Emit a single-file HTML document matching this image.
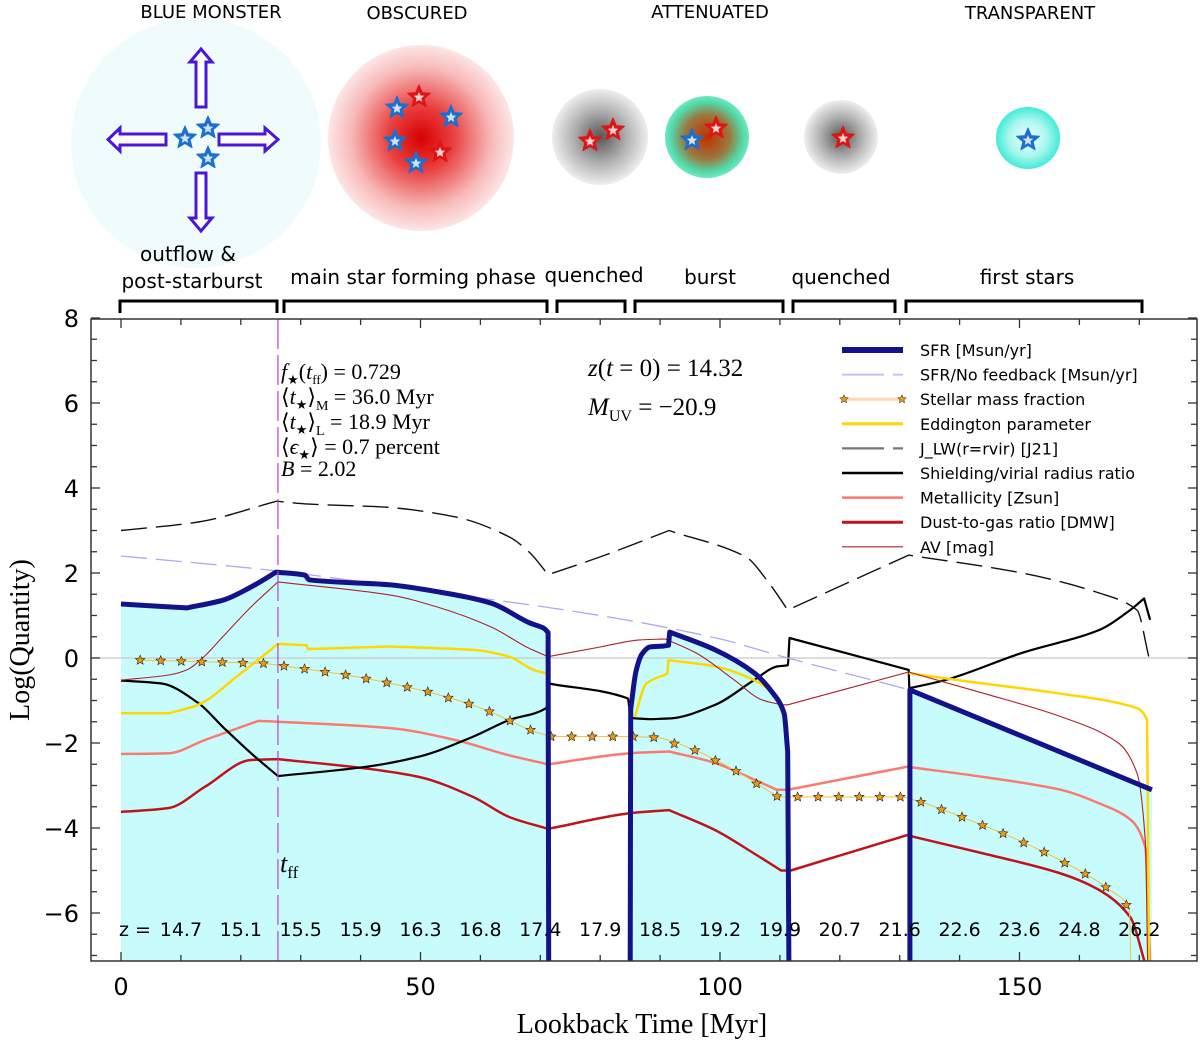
<!DOCTYPE html>
<html><head><meta charset="utf-8"><title>Galaxy evolution chart</title>
<style>
html,body{margin:0;padding:0;background:#fff;}
svg{display:block;}
.sans{font-family:"DejaVu Sans","Liberation Sans",sans-serif;}
.ser{font-family:"Liberation Serif","DejaVu Serif",serif;}
</style></head>
<body>
<svg id="fig" width="1200" height="1044" viewBox="0 0 1200 1044" xmlns="http://www.w3.org/2000/svg">
<defs>
  <radialGradient id="gRed" cx="50%" cy="50%" r="50%">
    <stop offset="0%" stop-color="#d80000"/><stop offset="35%" stop-color="#e84040"/><stop offset="75%" stop-color="#f7b8b8"/><stop offset="100%" stop-color="#fde6e6"/>
  </radialGradient>
  <radialGradient id="gGrey" cx="50%" cy="50%" r="50%">
    <stop offset="0%" stop-color="#555"/><stop offset="55%" stop-color="#b0b0b0"/><stop offset="100%" stop-color="#eeeeee"/>
  </radialGradient>
  <radialGradient id="gGreen" cx="50%" cy="50%" r="50%">
    <stop offset="0%" stop-color="#c03000"/><stop offset="55%" stop-color="#9a7a40"/><stop offset="85%" stop-color="#52d8a8"/><stop offset="100%" stop-color="#6ee8c0"/>
  </radialGradient>
  <radialGradient id="gCyan" cx="50%" cy="50%" r="50%">
    <stop offset="0%" stop-color="#f4ffff"/><stop offset="60%" stop-color="#a8f6ee"/><stop offset="100%" stop-color="#40ecd8"/>
  </radialGradient>
  <clipPath id="plotClip"><rect x="91" y="319" width="1106" height="642"/></clipPath>
</defs>

<g id="illus">
  <text class="sans" x="211" y="18" font-size="18" text-anchor="middle">BLUE MONSTER</text>
  <text class="sans" x="417" y="19" font-size="18" text-anchor="middle">OBSCURED</text>
  <text class="sans" x="710" y="18" font-size="18" text-anchor="middle">ATTENUATED</text>
  <text class="sans" x="1030" y="19" font-size="18" text-anchor="middle">TRANSPARENT</text>
  <ellipse cx="196" cy="143" rx="125" ry="125" fill="#effcfb"/>
  <ellipse cx="421" cy="138" rx="93" ry="93" fill="url(#gRed)"/>
  <ellipse cx="600" cy="137" rx="48" ry="48" fill="url(#gGrey)"/>
  <ellipse cx="707" cy="137" rx="42" ry="41" fill="url(#gGreen)"/>
  <ellipse cx="841" cy="137" rx="37" ry="37" fill="url(#gGrey)"/>
  <ellipse cx="1028" cy="138" rx="32" ry="31" fill="url(#gCyan)"/>
  <g fill="#fff" stroke="#4b17d6" stroke-width="3">
    <path d="M196,107 L196,62 L190,62 L201,49 L212,62 L206,62 L206,107 Z"/>
    <path d="M196,173 L196,218 L190,218 L201,231 L212,218 L206,218 L206,173 Z"/>
    <path d="M166,134 L120,134 L120,128 L108,139.5 L120,151 L120,145 L166,145 Z"/>
    <path d="M219,134 L265,134 L265,128 L278,139.5 L265,151 L265,145 L219,145 Z"/>
  </g>
  <g id="stars"></g>
  <text class="sans" x="188" y="261" font-size="20" text-anchor="middle">outflow &amp;</text>
  <text class="sans" x="192" y="288" font-size="20" text-anchor="middle">post-starburst</text>
  <text class="sans" x="413" y="284" font-size="20" text-anchor="middle">main star forming phase</text>
  <text class="sans" x="594" y="282" font-size="20" text-anchor="middle">quenched</text>
  <text class="sans" x="710" y="284" font-size="20" text-anchor="middle">burst</text>
  <text class="sans" x="841" y="284" font-size="20" text-anchor="middle">quenched</text>
  <text class="sans" x="1027" y="284" font-size="20" text-anchor="middle">first stars</text>
  <g fill="none" stroke="#000" stroke-width="3">
    <path d="M120,313 L120,301 L277,301 L277,313"/>
    <path d="M284,313 L284,301 L547,301 L547,313"/>
    <path d="M557,313 L557,301 L625,301 L625,313"/>
    <path d="M635,313 L635,301 L783,301 L783,313"/>
    <path d="M793,313 L793,301 L895,301 L895,313"/>
    <path d="M906,313 L906,301 L1142,301 L1142,313"/>
  </g>
</g>

<g id="plot"></g>
<rect x="91" y="319" width="1106" height="642" fill="none" stroke="#333" stroke-width="1.5"/>
<g id="axes"></g>

<g class="ser" font-size="22">
  <text x="281" y="379"><tspan font-style="italic">f</tspan><tspan font-size="13" dy="5">★</tspan><tspan dy="-5">(</tspan><tspan font-style="italic">t</tspan><tspan font-size="13" dy="5">ff</tspan><tspan dy="-5">) = 0.729</tspan></text>
  <text x="281" y="404">⟨<tspan font-style="italic">t</tspan><tspan font-size="13" dy="5">★</tspan><tspan dy="-5">⟩</tspan><tspan font-size="14" dy="6">M</tspan><tspan dy="-6"> = 36.0 Myr</tspan></text>
  <text x="281" y="429">⟨<tspan font-style="italic">t</tspan><tspan font-size="13" dy="5">★</tspan><tspan dy="-5">⟩</tspan><tspan font-size="14" dy="6">L</tspan><tspan dy="-6"> = 18.9 Myr</tspan></text>
  <text x="281" y="454">⟨<tspan font-style="italic">ϵ</tspan><tspan font-size="13" dy="5">★</tspan><tspan dy="-5">⟩ = 0.7 percent</tspan></text>
  <text x="281" y="476"><tspan font-style="italic">B</tspan> = 2.02</text>
</g>
<g class="ser" font-size="25">
  <text x="588" y="376"><tspan font-style="italic">z</tspan>(<tspan font-style="italic">t</tspan> = 0) = 14.32</text>
  <text x="588" y="415"><tspan font-style="italic">M</tspan><tspan font-size="16" dy="6">UV</tspan><tspan dy="-6"> = −20.9</tspan></text>
</g>
<text class="ser" x="280" y="872" font-size="26" font-style="italic">t<tspan font-size="17" font-style="normal" dy="6">ff</tspan></text>

<g id="legend" class="sans" font-size="16"></g>

<text class="ser" x="642" y="1033" font-size="28" text-anchor="middle">Lookback Time [Myr]</text>
<text class="ser" x="0" y="0" font-size="28" text-anchor="middle" transform="translate(29,640) rotate(-90)">Log(Quantity)</text>

<script>
const sfrT = [0,11,17,21.7,25.9,30.7,31.4,45,52.8,61.8,68.3,70.6,71.3,71.4,null,85.0,85.1,86,87,88.3,90.5,91.4,91.6,99.2,105.7,108.8,110.7,111.3,111.5,null,131.7,131.7,172.1];
const sfrV = [1.27,1.18,1.36,1.67,2.02,1.95,1.84,1.72,1.56,1.29,0.82,0.7,0.6,-7.2,null,-7.2,-1.2,-0.3,0.1,0.26,0.28,0.3,0.61,0.19,-0.35,-0.82,-1.3,-2.2,-7.2,null,-7.2,-0.75,-3.1];
const nofbT = [0,26,50,80,100,110,131.7];
const nofbV = [2.4,2.05,1.6,1.0,0.45,0.05,-0.75];
const smfT = [3.2,23.8,27.2,37.6,44.4,51.3,58.1,61.7,68.6,71.8,85.3,89.2,96,102.8,109.7,130.6,134,140.7,147.8,154.6,161.5,164.9,168.3,168.6];
const smfV = [-0.05,-0.13,-0.19,-0.4,-0.58,-0.8,-1.08,-1.27,-1.71,-1.85,-1.85,-1.87,-2.18,-2.67,-3.27,-3.27,-3.41,-3.76,-4.16,-4.6,-5.12,-5.44,-5.87,-7.2];
const eddT = [0,8,12.9,20,26.2,31,31.2,45,58.8,64.8,68.9,71,null,85.8,87.7,91.2,91.4,99.2,105.7,108.8,110.3,null,131.5,144,156.9,169.6,171.3,171.6];
const eddV = [-1.3,-1.3,-1.1,-0.36,0.33,0.3,0.21,0.27,0.19,0.03,-0.28,-0.36,null,-1.38,-0.6,-0.37,-0.05,-0.2,-0.52,-0.83,-1.15,null,-0.36,-0.6,-0.84,-1.18,-1.46,-7.2];
const jlwT = [0,12.9,26,31.4,44,55.8,64.8,68.3,71.3,80,91.5,104.3,108.2,111.3,131.5,150.4,163.3,169.6,171.6];
const jlwV = [3.0,3.2,3.69,3.62,3.55,3.32,2.85,2.47,1.96,2.38,3.0,2.38,1.76,1.13,2.42,2.0,1.53,1.13,0.02];
const shT = [0,6.8,12.9,17,21.7,26.2,40.9,49.8,58.8,64.8,71,71.4,84.6,85.1,88.3,91.8,99.2,105.7,109.5,111.3,111.6,131.5,131.6,137.6,150.4,163.3,168.5,170.8,171.8];
const shV = [-0.53,-0.6,-1.06,-1.62,-2.24,-2.78,-2.56,-2.32,-1.85,-1.46,-1.18,-0.6,-0.95,-1.41,-1.44,-1.42,-1.1,-0.52,-0.2,-0.17,0.47,-0.28,-0.71,-0.52,0.12,0.66,1.13,1.4,0.9];
const metT = [0,8,14,22.9,26.2,45,55.8,64.8,71.3,85.1,91.5,99.2,105.7,109.5,111.3,131.2,144,156.9,163.3,168.5,171,171.8];
const metV = [-2.26,-2.24,-1.93,-1.48,-1.5,-1.65,-1.93,-2.29,-2.5,-2.24,-2.2,-2.47,-2.86,-3.1,-3.1,-2.56,-2.8,-3.1,-3.42,-3.8,-4.45,-7.2];
const dustT = [0,8,14,21.7,26.2,40.9,49.8,58.8,64.8,71.3,85.1,91.5,99.2,105.7,110.2,111.8,131.2,144,156.9,163.3,168.5,171];
const dustV = [-3.62,-3.53,-3.03,-2.4,-2.38,-2.6,-2.8,-3.27,-3.74,-4.02,-3.65,-3.58,-4.05,-4.6,-5.0,-5.0,-4.17,-4.6,-5.07,-5.46,-6.1,-7.2];
const avT = [0,8,11,14,17,21.7,26.2,45,52.8,61.8,67.7,71.3,80,86.3,90.8,96,102.4,106.9,110.2,111.3,131.5,144,156.9,166.5,169.6,171,171.4];
const avV = [-0.52,-0.4,-0.28,0.05,0.5,1.2,1.79,1.48,1.2,0.73,0.26,0.03,0.26,0.42,0.45,0.12,-0.52,-0.98,-1.1,-1.1,-0.33,-0.83,-1.38,-2.0,-2.7,-4.3,-7.2];
const tff = 26.2;
const zTicksT = [10,20,30,40,50,60,70,80,90,100,110,120,130,140,150,160,170];
const zLabels = ["14.7","15.1","15.5","15.9","16.3","16.8","17.4","17.9","18.5","19.2","19.9","20.7","21.6","22.6","23.6","24.8","26.2"];
const xTickLabels = [0,50,100,150];
const yTickLabels = [8,6,4,2,0,-2,-4,-6];
const legendLabels = ["SFR  [Msun/yr]","SFR/No feedback [Msun/yr]","Stellar mass fraction","Eddington parameter","J_LW(r=rvir)  [J21]","Shielding/virial radius ratio","Metallicity [Zsun]","Dust-to-gas ratio  [DMW]","AV [mag]"];

const X = t => 121 + t * 5.99;
const Y = v => 658 - v * 42.5;
const NS = "http://www.w3.org/2000/svg";
function mk(tag, attrs, parent) {
  const e = document.createElementNS(NS, tag);
  for (const k in attrs) e.setAttribute(k, attrs[k]);
  parent.appendChild(e);
  return e;
}
function segs(T, V) {
  const out = []; let cur = [];
  for (let i = 0; i < T.length; i++) {
    if (T[i] === null) { if (cur.length) out.push(cur); cur = []; }
    else cur.push([X(T[i]), Y(V[i])]);
  }
  if (cur.length) out.push(cur);
  return out;
}
const f1 = v => v.toFixed(1);
// monotone cubic smoothing; vertical jumps drawn straight, strict extrema kept as corners
function smoothD(P) {
  const n = P.length;
  let d = "M" + f1(P[0][0]) + "," + f1(P[0][1]);
  const isJump = i => Math.abs(P[i+1][0] - P[i][0]) < 1.5;
  const sec = [];
  for (let i = 0; i < n - 1; i++) sec.push(isJump(i) ? null : (P[i+1][1]-P[i][1]) / (P[i+1][0]-P[i][0]));
  const tanAt = (i, k) => {
    const dl = i > 0 ? sec[i-1] : null, dr = i < n - 1 ? sec[i] : null;
    if (dl === null || dr === null) return sec[k];
    if (dl * dr <= 0) return sec[k];
    return 2 / (1 / dl + 1 / dr);
  };
  for (let k = 0; k < n - 1; k++) {
    if (sec[k] === null) { d += "L" + f1(P[k+1][0]) + "," + f1(P[k+1][1]); continue; }
    const h = P[k+1][0] - P[k][0];
    const m0 = tanAt(k, k), m1 = tanAt(k + 1, k);
    d += "C" + f1(P[k][0] + h/3) + "," + f1(P[k][1] + m0*h/3) + " " +
         f1(P[k+1][0] - h/3) + "," + f1(P[k+1][1] - m1*h/3) + " " +
         f1(P[k+1][0]) + "," + f1(P[k+1][1]);
  }
  return d;
}

const plot = document.getElementById("plot");
const g = mk("g", {"clip-path": "url(#plotClip)"}, plot);

segs(sfrT, sfrV).forEach(s => {
  const d = smoothD(s) + "L" + f1(s[s.length-1][0]) + ",961L" + f1(s[0][0]) + ",961Z";
  const p = mk("path", {d: d, fill: "#c8fcfc", stroke: "none"}, g);
  
  
});
const zl = mk("line", {x1: 91, x2: 1197, y1: Y(0), y2: Y(0), stroke: "#c8c8c8", "stroke-width": 1.2}, g);



function drawSeries(T, V, style, name) {
  segs(T, V).forEach(s => {
    const attrs = Object.assign({d: smoothD(s), fill: "none", "stroke-linejoin": "round"}, style);
    const e = mk("path", attrs, g);
    
    
  });
}
drawSeries(dustT, dustV, {stroke: "#c0141c", "stroke-width": 2.5}, "dust-to-gas-line");
drawSeries(metT, metV, {stroke: "#fa7a70", "stroke-width": 2.5}, "metallicity-line");
drawSeries(shT, shV, {stroke: "#000", "stroke-width": 2.2}, "shielding-line");
drawSeries(eddT, eddV, {stroke: "#ffd700", "stroke-width": 2.5}, "eddington-line");
drawSeries(avT, avV, {stroke: "#b0202a", "stroke-width": 1.1}, "av-line");
drawSeries(jlwT, jlwV, {stroke: "#111", "stroke-width": 1.4, "stroke-dasharray": "26,9"}, "jlw-line");
drawSeries(nofbT, nofbV, {stroke: "#b0a8e8", "stroke-width": 1.3, "stroke-dasharray": "26,9"}, "sfr-no-feedback-line");
drawSeries(smfT, smfV, {stroke: "#f0c040", "stroke-width": 1}, "stellar-mass-fraction-line");

function starPath(cx, cy, r) {
  let d = "";
  for (let i = 0; i < 10; i++) {
    const a = -Math.PI / 2 + i * Math.PI / 5, rr = i % 2 ? r * 0.45 : r;
    d += (i ? "L" : "M") + f1(cx + rr * Math.cos(a)) + "," + f1(cy + rr * Math.sin(a));
  }
  return d + "Z";
}
function interp(T, V, t) {
  for (let i = 0; i < T.length - 1; i++) if (t >= T[i] && t <= T[i+1]) return V[i] + (V[i+1]-V[i]) * (t-T[i]) / (T[i+1]-T[i]);
  return V[V.length-1];
}
for (let t = smfT[0]; t <= smfT[smfT.length-2] + 0.01; t += 3.43) {
  const m = mk("path", {d: starPath(X(t), Y(interp(smfT, smfV, t)), 5), fill: "#f09a10", stroke: "#222", "stroke-width": 0.6}, g);
  
  
}
drawSeries(sfrT, sfrV, {stroke: "#14128a", "stroke-width": 5}, "sfr-line");

const tl = mk("line", {x1: X(tff), x2: X(tff), y1: 319, y2: 961, stroke: "#c040c8", "stroke-width": 1.2, "stroke-dasharray": "30,6"}, g);



zTicksT.forEach((t, i) => {
  const tx = mk("text", {x: X(t), y: 936, "font-size": 19, "text-anchor": "middle", class: "sans"}, g);
  tx.textContent = zLabels[i];
  
  
});
const zp = mk("text", {x: X(0) - 2, y: 936, "font-size": 19, class: "sans"}, g);
zp.textContent = "z =";



const ax = document.getElementById("axes");
for (let t = 0; t <= 170; t += 10) {
  const len = t % 50 === 0 ? 9 : 6;
  mk("line", {x1: X(t), x2: X(t), y1: 961, y2: 961 - len, stroke: "#333", "stroke-width": 1.3}, ax);
  mk("line", {x1: X(t), x2: X(t), y1: 319, y2: 319 + len, stroke: "#333", "stroke-width": 1.3}, ax);
}
for (let v = -7; v <= 8; v += 0.5) {
  const len = Number.isInteger(v) && v % 2 === 0 ? 9 : 6;
  mk("line", {x1: 91, x2: 91 + len, y1: Y(v), y2: Y(v), stroke: "#333", "stroke-width": 1.3}, ax);
  mk("line", {x1: 1197, x2: 1197 - len, y1: Y(v), y2: Y(v), stroke: "#333", "stroke-width": 1.3}, ax);
}
xTickLabels.forEach(t => {
  const tx = mk("text", {x: X(t), y: 995, "font-size": 24, "text-anchor": "middle", class: "sans"}, ax);
  tx.textContent = t;
  
  
});
yTickLabels.forEach(v => {
  const tx = mk("text", {x: 79, y: Y(v) + 9, "font-size": 24, "text-anchor": "end", class: "sans"}, ax);
  tx.textContent = v < 0 ? "−" + Math.abs(v) : v;
  
  
});

const lg = document.getElementById("legend");
const lstyles = [
  {stroke: "#14128a", "stroke-width": 6},
  {stroke: "#c8c0f0", "stroke-width": 2, "stroke-dasharray": "42,9"},
  {stroke: "#fbd9b0", "stroke-width": 3},
  {stroke: "#ffd700", "stroke-width": 3},
  {stroke: "#777", "stroke-width": 2.2, "stroke-dasharray": "42,9"},
  {stroke: "#000", "stroke-width": 2.5},
  {stroke: "#fa7a70", "stroke-width": 2.5},
  {stroke: "#c0141c", "stroke-width": 3},
  {stroke: "#b0202a", "stroke-width": 1.2}
];
legendLabels.forEach((lab, i) => {
  const y = 350 + i * 24.6;
  const row = mk("g", {}, lg);
  
  
  mk("line", Object.assign({x1: 842, x2: 903, y1: y, y2: y, fill: "none"}, lstyles[i]), row);
  if (i === 2) {
    mk("path", {d: starPath(844, y, 4.5), fill: "#f09a10", stroke: "#222", "stroke-width": 0.5}, row);
    mk("path", {d: starPath(902, y, 4.5), fill: "#f09a10", stroke: "#222", "stroke-width": 0.5}, row);
  }
  const tx = mk("text", {x: 920, y: y + 6}, row);
  tx.textContent = lab;
});

const st = document.getElementById("stars");
const blue = "#1a70d0", red = "#e01414";
const starList = [
  [185,138,blue],[208,128,blue],[208,158,blue],
  [419,97,red],[397,108,blue],[451,117,blue],[395,141,blue],[440,152,red],[416,163,blue],
  [590,141,red],[613,130,red],[692,140,blue],[716,128,red],[843,138,red],[1028,140,blue]
];
starList.forEach(s => {
  const p = mk("path", {d: starPath(s[0], s[1], 12), fill: s[2], stroke: s[2], "stroke-width": 1, "stroke-linejoin": "round"}, st);
  
  
  mk("path", {d: starPath(s[0], s[1] + 0.5, 5.5), fill: "#f4f4f4", opacity: 0.85}, st);
});
</script>
</svg>
</body></html>
